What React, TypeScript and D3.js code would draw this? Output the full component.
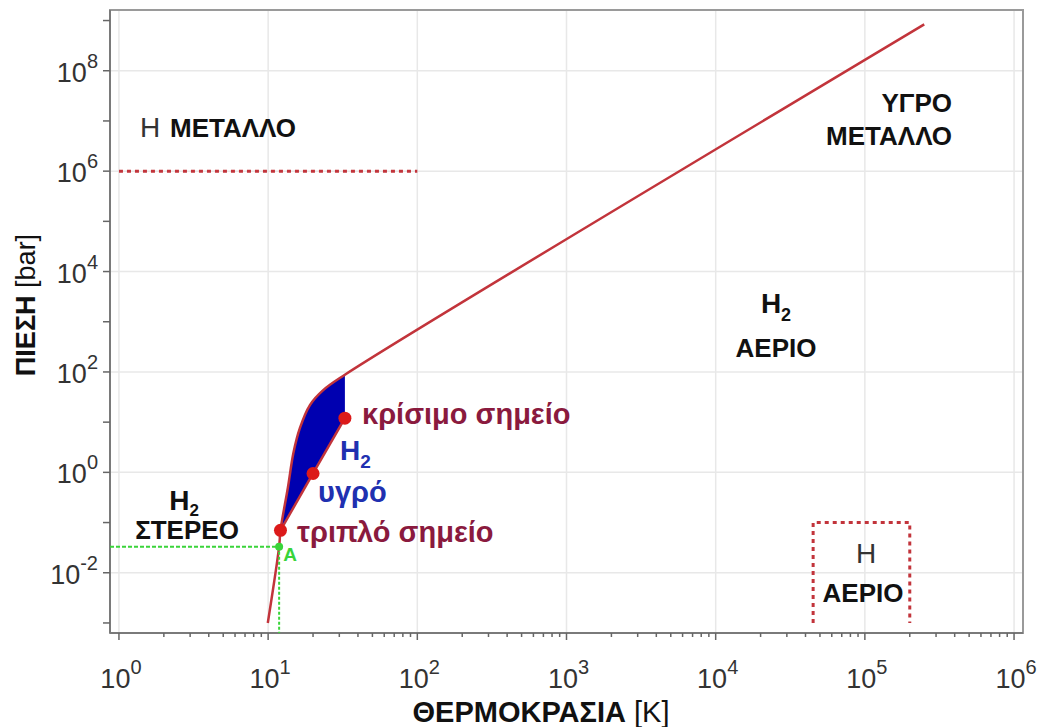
import React from "react";
import * as d3 from "d3";

// ---- data ----
const xTickExps = [0, 1, 2, 3, 4, 5, 6];
const yTickExps = [-3, -2, -1, 0, 1, 2, 3, 4, 5, 6, 7, 8, 9];
const yLabelExps = [-2, 0, 2, 4, 6, 8];

// sublimation curve (below triple point)
const sublimT = [9.95, 11.85, 12.1];
const sublimP = [0.001, 0.033, 0.07];
// upper boundary of liquid region
const boundT = [12.1, 13.57, 14.78, 16.34, 19.06, 23.4, 32.7];
const boundP = [0.07, 0.5, 2.46, 7.67, 21.9, 43.4, 88];
// high pressure line to metallic fluid
const highT = [32.7, 250000];
const highP = [88, 8.4e8];
// vaporization curve
const vapT = [12.1, 20, 32.7];
const vapP = [0.07, 0.95, 12];
// marked points (triple, boiling, critical)
const dotT = [12.1, 20, 32.7];
const dotP = [0.07, 0.95, 12];
// point A
const pointA = { T: 11.85, P: 0.033 };
// metallic hydrogen boundary
const metalT = [1, 100];
const metalP = 1e6;
// atomic gas box
const boxT = [45000, 45000, 200000, 200000];
const boxP = [0.001, 0.1, 0.1, 0.001];

const W = 1037;
const H = 727;
const FONT = "'Liberation Sans', Arial, Helvetica, sans-serif";
const RED = "#c2343b";
const DOT = "#dc1a1a";
const MAROON = "#8a1a3e";
const BLUE = "#0000b0";
const BLUE_TXT = "#2030b0";
const GREEN = "#3ad43a";

export default function App() {
  const x = d3.scaleLog().domain([Math.pow(10, -0.06), Math.pow(10, 6.06)]).range([110, 1023]);
  const y = d3.scaleLog().domain([Math.pow(10, -3.2), Math.pow(10, 9.21)]).range([633, 10]);

  const pts = (T: number[], P: number[]) => T.map((t, i) => [t, P[i]] as [number, number]);
  const curve = d3
    .line<[number, number]>()
    .x((d) => x(d[0]))
    .y((d) => y(d[1]))
    .curve(d3.curveCatmullRom.alpha(0.5));
  const straight = d3
    .line<[number, number]>()
    .x((d) => x(d[0]))
    .y((d) => y(d[1]));

  const mainPts = [
    ...pts(sublimT, sublimP),
    ...pts(boundT, boundP).slice(1),
    ...pts(highT, highP).slice(1),
  ];
  const boundPts = pts(boundT, boundP);
  const vapPts = pts(vapT, vapP);
  const fillPath =
    (curve(boundPts) as string) +
    "L" +
    [...vapPts].reverse().map((d) => `${x(d[0])},${y(d[1])}`).join("L") +
    "Z";

  const [x0, x1] = x.range();
  const [yB, yT] = y.range();

  const minorX: number[] = [];
  for (let e = 0; e < 6; e++) for (let m = 2; m <= 9; m++) minorX.push(m * Math.pow(10, e));

  const boldTxt = { fontFamily: FONT, fontWeight: 700, fill: "#111" } as const;

  return (
    <svg width={W} height={H} style={{ position: "absolute", left: 0, top: 0, background: "#fff" }}>
      <rect x={0} y={0} width={W} height={H} fill="#fff" />
      {/* grid */}
      {xTickExps.map((e) => (
        <line key={"gx" + e} x1={x(Math.pow(10, e))} x2={x(Math.pow(10, e))} y1={yT} y2={yB} stroke="#e8e8e8" strokeWidth={1.5} />
      ))}
      {yLabelExps.map((e) => (
        <line key={"gy" + e} x1={x0} x2={x1} y1={y(Math.pow(10, e))} y2={y(Math.pow(10, e))} stroke="#e8e8e8" strokeWidth={1.5} />
      ))}
      {/* frame */}
      <rect x={x0} y={yT} width={x1 - x0} height={yB - yT} fill="none" stroke="#9a9a9a" strokeWidth={2} />
      <line x1={x0} x2={x0} y1={yT} y2={yB} stroke="#7a7a7a" strokeWidth={2} />
      <line x1={x0} x2={x1} y1={yB} y2={yB} stroke="#7a7a7a" strokeWidth={2} />
      {/* y ticks */}
      {yTickExps.map((e) => (
        <line key={"ty" + e} x1={x0 - 7} x2={x0} y1={y(Math.pow(10, e))} y2={y(Math.pow(10, e))} stroke="#666" strokeWidth={1.5} />
      ))}
      {/* x ticks */}
      {xTickExps.map((e) => (
        <line key={"tx" + e} x1={x(Math.pow(10, e))} x2={x(Math.pow(10, e))} y1={yB} y2={yB + 7} stroke="#666" strokeWidth={1.5} />
      ))}
      {minorX.map((v, i) => (
        <line key={"mx" + i} x1={x(v)} x2={x(v)} y1={yB} y2={yB + 4} stroke="#666" strokeWidth={1.5} />
      ))}
      {/* tick labels */}
      {xTickExps.map((e) => (
        <text key={"lx" + e} x={x(Math.pow(10, e)) + 2} y={688} textAnchor="middle" fontFamily={FONT} fontSize={27} fill="#333">
          <tspan>10</tspan>
          <tspan dy={-14} fontSize={20}>{e}</tspan>
        </text>
      ))}
      {yLabelExps.map((e) => (
        <text key={"ly" + e} x={98} y={y(Math.pow(10, e)) + 11} textAnchor="end" fontFamily={FONT} fontSize={27} fill="#333">
          <tspan>10</tspan>
          <tspan dy={-14} fontSize={20}>{e}</tspan>
        </text>
      ))}
      {/* axis titles */}
      <text x={541} y={722} textAnchor="middle" fontFamily={FONT} fontSize={29} fill="#111">
        <tspan fontWeight={700}>ΘΕΡΜΟΚΡΑΣΙΑ</tspan>
        <tspan fontWeight={400}> [K]</tspan>
      </text>
      <text transform="translate(35,305) rotate(-90)" textAnchor="middle" fontFamily={FONT} fontSize={27} fill="#111">
        <tspan fontWeight={700}>ΠΙΕΣΗ</tspan>
        <tspan fontWeight={400}> [bar]</tspan>
      </text>

      {/* metallic boundary */}
      <line
        x1={x(metalT[0])}
        x2={x(metalT[1])}
        y1={y(metalP)}
        y2={y(metalP)}
        stroke={RED}
        strokeWidth={3}
        strokeDasharray="4 4"
      />
      {/* atomic gas box */}
      <path d={straight(pts(boxT, boxP)) as string} fill="none" stroke={RED} strokeWidth={3} strokeDasharray="4 4" />

      {/* liquid region */}
      <path d={fillPath} fill={BLUE} stroke="none" />
      {/* phase lines */}
      <path d={curve(mainPts) as string} fill="none" stroke={RED} strokeWidth={2.5} />
      <path d={straight(vapPts) as string} fill="none" stroke={RED} strokeWidth={2.5} />

      {/* green guides for point A */}
      <line x1={x0} x2={x(pointA.T)} y1={y(pointA.P)} y2={y(pointA.P)} stroke={GREEN} strokeWidth={2} strokeDasharray="4 2" />
      <line x1={x(pointA.T)} x2={x(pointA.T)} y1={y(pointA.P)} y2={yB} stroke={GREEN} strokeWidth={2} strokeDasharray="3 2" />
      <circle cx={x(pointA.T)} cy={y(pointA.P)} r={4} fill={GREEN} />
      <text x={x(pointA.T) + 4} y={y(pointA.P) + 14} fontFamily={FONT} fontWeight={700} fontSize={19} fill={GREEN}>
        A
      </text>

      {/* dots */}
      {dotT.map((t, i) => (
        <circle key={"d" + i} cx={x(t)} cy={y(dotP[i])} r={6.5} fill={DOT} />
      ))}

      {/* labels */}
      <text x={140} y={137} fontFamily={FONT} fontSize={28} fill="#333">Η</text>
      <text x={170} y={137} {...boldTxt} fontSize={26}>ΜΕΤΑΛΛΟ</text>

      <text x={952} y={112} textAnchor="end" {...boldTxt} fontSize={26}>ΥΓΡΟ</text>
      <text x={952} y={145} textAnchor="end" {...boldTxt} fontSize={26}>ΜΕΤΑΛΛΟ</text>

      <text x={776} y={313} textAnchor="middle" {...boldTxt} fontSize={28}>
        <tspan>H</tspan>
        <tspan dy={8} fontSize={18}>2</tspan>
      </text>
      <text x={776} y={357} textAnchor="middle" {...boldTxt} fontSize={26}>ΑΕΡΙΟ</text>

      <text x={184} y={510} textAnchor="middle" {...boldTxt} fontSize={28}>
        <tspan>H</tspan>
        <tspan dy={6} fontSize={17}>2</tspan>
      </text>
      <text x={187} y={539} textAnchor="middle" {...boldTxt} fontSize={26}>ΣΤΕΡΕΟ</text>

      <text x={866} y={563} textAnchor="middle" fontFamily={FONT} fontSize={28} fill="#333">Η</text>
      <text x={863} y={602} textAnchor="middle" {...boldTxt} fontSize={26}>ΑΕΡΙΟ</text>

      <text x={362} y={424} fontFamily={FONT} fontWeight={700} fontSize={29} fill={MAROON}>κρίσιμο σημείο</text>
      <text x={297} y={542} fontFamily={FONT} fontWeight={700} fontSize={29} fill={MAROON}>τριπλό σημείο</text>

      <text x={340} y={460} fontFamily={FONT} fontWeight={700} fontSize={28} fill={BLUE_TXT}>
        <tspan>H</tspan>
        <tspan dy={8} fontSize={19}>2</tspan>
      </text>
      <text x={318} y={502} fontFamily={FONT} fontWeight={700} fontSize={29} fill={BLUE_TXT}>υγρό</text>
    </svg>
  );
}
